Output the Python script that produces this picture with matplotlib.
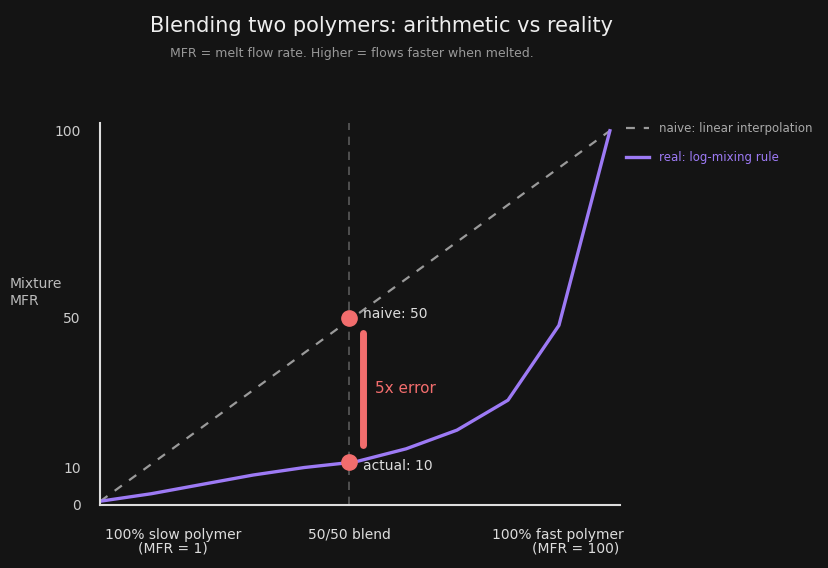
import matplotlib
matplotlib.use("Agg")
import matplotlib.pyplot as plt
import numpy as np

fraction_fast = [0.0, 0.1, 0.2, 0.3, 0.4, 0.5, 0.6, 0.7, 0.8, 0.9, 1.0]
real_mfr = [1, 3, 5.5, 8, 10, 11.5, 15, 20, 28, 48, 100]
naive_x = [0.0, 1.0]
naive_mfr = [1, 100]
naive_point = 50
actual_point = 11.5
ytick_vals = [0, 10, 50, 100]

bg = "#141414"
plt.rcParams['font.family'] = ['DejaVu Sans']
fig = plt.figure(figsize=(8.29, 5.68), dpi=100, facecolor=bg)
ax = fig.add_axes([0.121, 0.111, 0.627, 0.672], facecolor=bg)

ax.plot(naive_x, naive_mfr, ls=(0, (4, 4)), color="#9a9a9a", lw=1.6, label="naive: linear interpolation")
ax.plot(fraction_fast, real_mfr, color="#9d7af5", lw=2.4, label="real: log-mixing rule")
ax.axvline(0.488, color="#5a5a5a", ls=(0, (5, 4)), lw=1.2, zorder=0)
ax.plot([0.488], [naive_point], 'o', color="#f26d6d", ms=11, zorder=5)
ax.plot([0.488], [actual_point], 'o', color="#f26d6d", ms=11, zorder=5)
ax.plot([0.515, 0.515], [16, 46], color="#f26d6d", lw=5, solid_capstyle='round')
ax.text(0.54, 31, "5x error", color="#f26d6d", fontsize=11, va='center')
ax.text(0.515, naive_point + 1, "naive: 50", color="#dddddd", fontsize=10, va='center')
ax.text(0.515, actual_point - 1, "actual: 10", color="#dddddd", fontsize=10, va='center')

ax.set_xlim(0, 1.02)
ax.set_ylim(0, 102)
ax.set_yticks(ytick_vals)
ax.set_yticklabels([str(v) for v in ytick_vals], color="#cccccc", fontsize=10)
ax.tick_params(axis='y', length=0, pad=14)
ax.set_xticks([])
for s in ['top', 'right']:
    ax.spines[s].set_visible(False)
for s in ['left', 'bottom']:
    ax.spines[s].set_color("#dddddd")
    ax.spines[s].set_linewidth(1.5)

ax.text(0.14, -0.06, "100% slow polymer\n(MFR = 1)", transform=ax.transAxes, ha='center', va='top', color="#dddddd", fontsize=10, linespacing=1.0)
ax.text(0.48, -0.06, "50/50 blend", transform=ax.transAxes, ha='center', va='top', color="#dddddd", fontsize=10)
ax.text(0.88, -0.06, "100% fast polymer\n        (MFR = 100)", transform=ax.transAxes, ha='center', va='top', color="#dddddd", fontsize=10, linespacing=1.0)

fig.text(0.012, 0.485, "Mixture\nMFR", color="#bbbbbb", fontsize=10, va='center')
fig.text(0.46, 0.955, "Blending two polymers: arithmetic vs reality", color="#eeeeee", fontsize=15, ha='center', va='center')
fig.text(0.425, 0.905, "MFR = melt flow rate. Higher = flows faster when melted.", color="#999999", fontsize=9, ha='center', va='center')

leg = ax.legend(loc='upper left', bbox_to_anchor=(0.99, 1.03), frameon=False, fontsize=8.5,
                handlelength=2, labelspacing=1.3)
for t, c in zip(leg.get_texts(), ["#aaaaaa", "#9d7af5"]):
    t.set_color(c)

fig.savefig("out.png", dpi=100, facecolor=bg)
